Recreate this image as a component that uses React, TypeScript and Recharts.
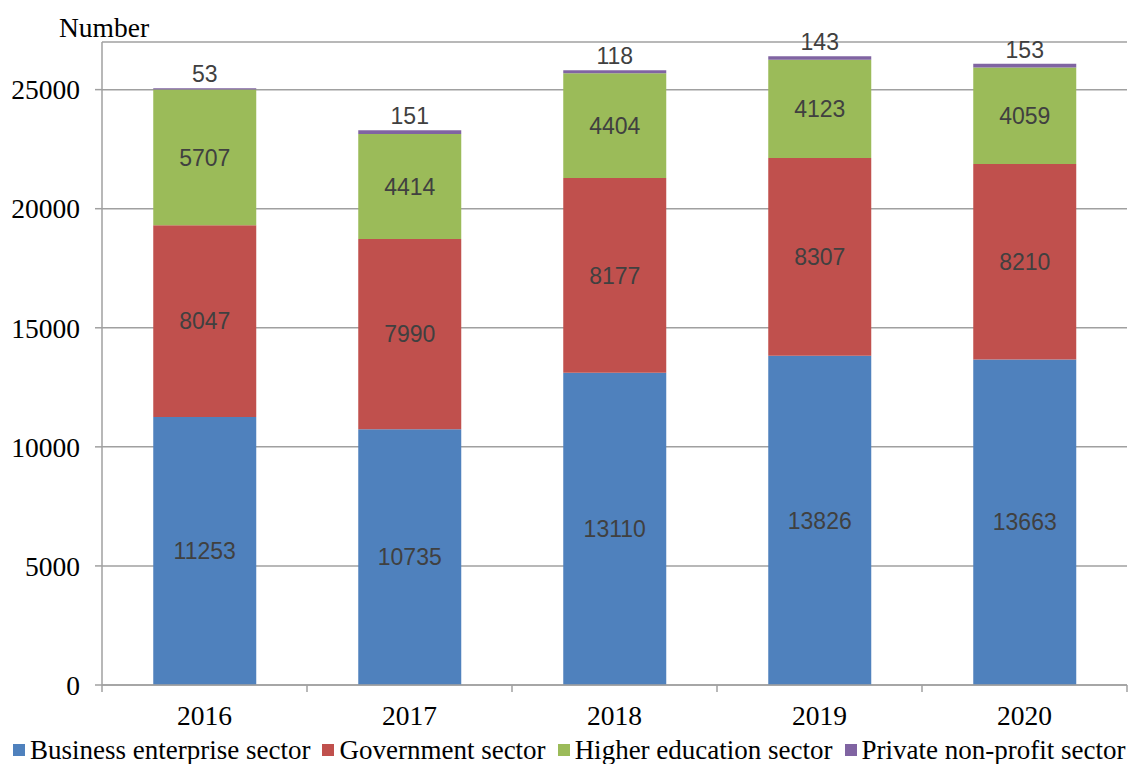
import { BarChart, Bar, XAxis, YAxis, CartesianGrid, Legend, LabelList } from "recharts";

const years = ["2016", "2017", "2018", "2019", "2020"];
const business = [11253, 10735, 13110, 13826, 13663];
const government = [8047, 7990, 8177, 8307, 8210];
const higherEd = [5707, 4414, 4404, 4123, 4059];
const privateNonProfit = [53, 151, 118, 143, 153];
const yTicks = [0, 5000, 10000, 15000, 20000, 25000];

const W = 1134;
const H = 764;
const MARGIN = { top: 42, right: 7, bottom: 0, left: 12 };
const Y_AXIS_W = 90;
const PLOT_W = W - MARGIN.left - MARGIN.right - Y_AXIS_W;
const BAND = PLOT_W / years.length;

const serif = '"Liberation Serif", "Times New Roman", serif';
const sans = '"Liberation Sans", Arial, sans-serif';
const axisGray = "#a0a0a0";
const SERIF_SIZE = 27.5;

const data = years.map((year, i) => ({
  year,
  business: business[i],
  government: government[i],
  higherEd: higherEd[i],
  privateNonProfit: privateNonProfit[i],
}));

function YearTick(props: any) {
  const { x, y, payload, index } = props;
  const left = x - BAND / 2;
  return (
    <g>
      <line x1={left} y1={y} x2={left} y2={y + 7} stroke={axisGray} strokeWidth={1.5} />
      {index === years.length - 1 && (
        <line x1={x + BAND / 2} y1={y} x2={x + BAND / 2} y2={y + 7} stroke={axisGray} strokeWidth={1.5} />
      )}
      <text x={x} y={y + 40} textAnchor="middle" fontFamily={serif} fontSize={SERIF_SIZE} fill="#000">
        {payload.value}
      </text>
    </g>
  );
}

function LegendRow(props: any) {
  const { payload } = props;
  return (
    <div
      style={{
        display: "flex",
        whiteSpace: "nowrap",
        alignItems: "center",
        boxSizing: "border-box",
        height: 30,
        paddingTop: 2,
        paddingLeft: 13,
        fontFamily: serif,
        fontSize: 27,
        lineHeight: "22px",
        color: "#000",
      }}
    >
      {(payload || []).map((entry: any, i: number) => (
        <span key={i} style={{ display: "inline-flex", alignItems: "center", marginRight: 12 }}>
          <span style={{ width: 12, height: 12, background: entry.color, marginRight: 5, display: "inline-block" }} />
          {entry.value}
        </span>
      ))}
    </div>
  );
}

const labelStyle = { fill: "#404040", fontFamily: sans, fontSize: 23 };

export default function App() {
  return (
    <div style={{ position: "absolute", left: 0, top: 0, background: "#fff" }}>
      <BarChart width={W} height={H} data={data} margin={MARGIN} barCategoryGap="25%">
        <CartesianGrid vertical={false} stroke={axisGray} strokeWidth={1.5} />
        <XAxis
          dataKey="year"
          height={49}
          tickSize={0}
          tickMargin={0}
          tickLine={false}
          axisLine={{ stroke: axisGray, strokeWidth: 1.5 }}
          tick={<YearTick />}
          interval={0}
        />
        <YAxis
          width={Y_AXIS_W}
          domain={[0, 27000]}
          ticks={yTicks}
          interval={0}
          tickSize={7}
          tickMargin={15}
          tickLine={{ stroke: axisGray, strokeWidth: 1.5 }}
          axisLine={{ stroke: axisGray, strokeWidth: 1.5 }}
          tick={{ fill: "#000", fontFamily: serif, fontSize: SERIF_SIZE }}
          label={() => (
            <text x={59} y={37} fontFamily={serif} fontSize={SERIF_SIZE} fill="#000">
              Number
            </text>
          )}
        />
        <Legend
          verticalAlign="bottom"
          align="left"
          height={30}
          content={<LegendRow />}
          wrapperStyle={{ left: 0, width: W, bottom: 0 }}
        />
        <Bar dataKey="business" name="Business enterprise sector" stackId="a" fill="#4F81BD" isAnimationActive={false}>
          <LabelList dataKey="business" position="center" style={labelStyle} />
        </Bar>
        <Bar dataKey="government" name="Government sector" stackId="a" fill="#C0504D" isAnimationActive={false}>
          <LabelList dataKey="government" position="center" style={labelStyle} />
        </Bar>
        <Bar dataKey="higherEd" name="Higher education sector" stackId="a" fill="#9BBB59" isAnimationActive={false}>
          <LabelList dataKey="higherEd" position="center" style={labelStyle} />
        </Bar>
        <Bar dataKey="privateNonProfit" name="Private non-profit sector" stackId="a" fill="#8064A2" isAnimationActive={false}>
          <LabelList dataKey="privateNonProfit" position="top" offset={6} style={labelStyle} />
        </Bar>
      </BarChart>
    </div>
  );
}
